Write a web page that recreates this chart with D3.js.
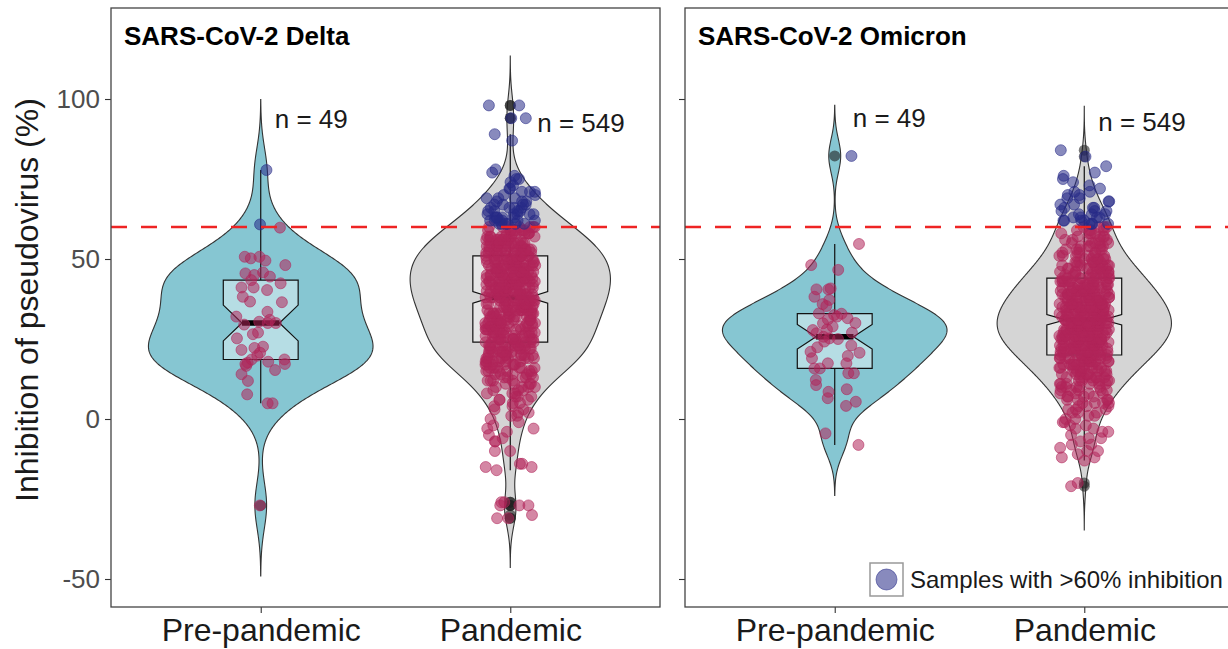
<!DOCTYPE html>
<html>
<head>
<meta charset="utf-8">
<script src="https://d3js.org/d3.v7.min.js"></script>
<style>
  body { margin: 0; background: #fff; }
  svg { display: block; font-family: "Liberation Sans", Arial, sans-serif; }
  .tick line { stroke: #333; stroke-width: 1.1px; }
  .y.axis text { fill: #4d4d4d; font-size: 26px; }
  .x.axis text { fill: #1a1a1a; font-size: 32px; }
  .panel-title { font-weight: bold; font-size: 26px; fill: #000; }
  .nlab { font-size: 26px; fill: #1a1a1a; }
  .violin { stroke: #333; stroke-width: 1.1px; }
  .box { fill: #fff; fill-opacity: 0.4; stroke: #111; stroke-width: 1.2px; }
  .whisker { stroke: #111; stroke-width: 1.2px; }
  .median { stroke: #000; stroke-width: 5.5px; }
  .outlier { fill: #222; fill-opacity: 0.6; }
  .cutoff { stroke: #ee2424; stroke-width: 2.6px; stroke-dasharray: 16 14; }
  .border { fill: none; stroke: #444; stroke-width: 1.3px; }
</style>
</head>
<body>
<script>
// ---- data ----
var panels = ["SARS-CoV-2 Delta", "SARS-CoV-2 Omicron"];
var groups = ["Pre-pandemic", "Pandemic"];
var yTicks = [-50, 0, 50, 100];
var cutoff = 60;
var legendLabel = "Samples with >60% inhibition";
var yLabel = "Inhibition of pseudovirus (%)";

// pre-pandemic sera, one value per sample
var deltaPre = [60.8, 59.8, 50.2, 50.7, 49.5, 48.1, 45.8, 45, 45.5, 44.5,
  43.4, 42.4, 41.1, 41.1, 40.3, 38.2, 36.5, 33.5, 32, 30.4,
  30, 30, 29.5, 26.5, 27, 25.2, 22.6, 22.2, 21.6, 20.7,
  19.8, 18.6, 17.6, 18.6, 17.9, 17.2, 16.6, 15.3, 14, 17.2,
  11.9, 7.7, 4.9, 4.9, -27, 77.8, 50.7, 36.7, 31];

var omicronPre = [54.7, 48.1, 46.6, 40.8, 40.5, 40.5, 38.2, 37.2, 35.9, 35.3,
  32, 32.5, 31.1, 32.9, 31.5, 29.9, 28.9, 27.8, 26.8, 25.2,
  25.7, 24.2, 22.4, 20.7, 19.7, 21, 17.4, 17.4, 15.8, 14.3,
  15.8, 14.3, 12.2, 10.6, 9.3, 8.5, 6.5, 5.4, 4.1, -4.5,
  -8.1, 82.2, 28, 25, 23, 30, 27, 33, 19];

// pandemic sera: number of samples at each whole percent, starting at *From
var deltaPandemicFrom = -31;
var deltaPandemicCounts = [
  2, 1, 0, 0, 3, 2, 0, 0, 0, 0,      // -31 .. -22
  0, 0, 0, 0, 0, 1, 2, 2, 0, 0,      // -21 .. -12
  0, 2, 0, 0, 2, 1, 1, 1, 2, 1,      // -11 .. -2
  1, 1, 2, 2, 2, 2, 2, 3, 3, 3,      // -1 .. 8
  3, 4, 4, 4, 5, 5, 6, 6, 7, 7,      // 9 .. 18
  8, 8, 8, 9, 8, 9, 9, 8, 9, 9,      // 19 .. 28
  9, 9, 9, 9, 10, 10, 10, 10, 10, 9, // 29 .. 38
  11, 11, 10, 11, 11, 11, 10, 11, 10, 11, // 39 .. 48
  10, 11, 10, 10, 10, 9, 9, 9, 8, 7, // 49 .. 58
  7, 7, 6, 6, 5, 5, 4, 4, 4, 3,      // 59 .. 68
  3, 2, 3, 2, 1, 1, 2, 1, 1, 1,      // 69 .. 78
  0, 0, 0, 0, 0, 0, 0, 0, 1, 0,      // 79 .. 88
  1, 0, 0, 0, 0, 2, 0, 0, 0, 2       // 89 .. 98
];

var omicronPandemicFrom = -21;
var omicronPandemicCounts = [
  1, 1, 0, 0, 0, 0, 0, 0, 1, 2,      // -21 .. -12
  1, 2, 1, 2, 1, 2, 1, 2, 2, 2,      // -11 .. -2
  2, 2, 2, 3, 3, 3, 4, 4, 4, 4,      // -1 .. 8
  5, 5, 6, 6, 7, 7, 7, 8, 8, 9,      // 9 .. 18
  10, 10, 10, 11, 12, 12, 12, 12, 13, 13, // 19 .. 28
  14, 13, 13, 13, 12, 12, 12, 12, 12, 11, // 29 .. 38
  11, 10, 10, 10, 9, 9, 8, 8, 8, 7,  // 39 .. 48
  7, 6, 6, 5, 5, 5, 5, 5, 4, 4,      // 49 .. 58
  4, 4, 4, 4, 4, 3, 3, 3, 2, 2,      // 59 .. 68
  2, 2, 2, 1, 1, 1, 1, 1, 1, 0,      // 69 .. 78
  1, 0, 0, 1, 0, 1                   // 79 .. 84
];

var violinFill = ["#86c6d2", "#d5d5d5"];
var pointColor = { low: "#b0245a", high: "#262a86" };

// ---- helpers ----
function expandCounts(from, counts) {
  var out = [];
  counts.forEach(function(c, i) {
    for (var k = 0; k < c; k++) out.push(from + i);
  });
  return out;
}

function gauss(u) { return Math.exp(-0.5 * u * u) / Math.sqrt(2 * Math.PI); }

function bwNrd0(values) {
  var s = values.slice().sort(d3.ascending);
  var iqr = d3.quantileSorted(s, 0.75) - d3.quantileSorted(s, 0.25);
  return 0.9 * Math.min(d3.deviation(s), iqr / 1.34) * Math.pow(s.length, -0.2);
}

// gaussian kde on 512 points, tails cut at 3 bandwidths (ggplot violin, trim = FALSE)
function kde(values) {
  var bw = bwNrd0(values);
  var lo = d3.min(values) - 3 * bw, hi = d3.max(values) + 3 * bw;
  return d3.range(512).map(function(i) {
    var t = lo + (hi - lo) * i / 511;
    return [t, d3.mean(values, function(v) { return gauss((t - v) / bw); }) / bw];
  });
}

function boxStats(values) {
  var s = values.slice().sort(d3.ascending);
  var q1 = d3.quantileSorted(s, 0.25), q2 = d3.quantileSorted(s, 0.5), q3 = d3.quantileSorted(s, 0.75);
  var iqr = q3 - q1;
  var inside = s.filter(function(v) { return v >= q1 - 1.5 * iqr && v <= q3 + 1.5 * iqr; });
  var notch = 1.58 * iqr / Math.sqrt(s.length);
  return {
    q1: q1, q2: q2, q3: q3,
    lo: d3.min(inside), hi: d3.max(inside),
    nlo: q2 - notch, nhi: q2 + notch,
    out: s.filter(function(v) { return v < q1 - 1.5 * iqr || v > q3 + 1.5 * iqr; })
  };
}

var panelData = [
  [deltaPre, expandCounts(deltaPandemicFrom, deltaPandemicCounts)],
  [omicronPre, expandCounts(omicronPandemicFrom, omicronPandemicCounts)]
];

// ---- layout ----
var W = 1228, H = 649;
var panelTop = 8, panelBottom = 607, panelWidth = 549;
var panelLefts = [111, 685];
// where the "n = " labels sit: offset from group centre (px) and height (data units)
var nLabelPos = [[[14, 91], [27, 89.7]], [[18, 91.2], [14, 90]]];

var svg = d3.select("body").append("svg")
  .attr("width", W)
  .attr("height", H);

var y = d3.scaleLinear().domain([-58.75, 128.44]).range([panelBottom, panelTop]);

svg.append("text")
  .attr("transform", "translate(38,300) rotate(-90)")
  .attr("text-anchor", "middle")
  .style("font-size", "32px")
  .style("fill", "#1a1a1a")
  .text(yLabel);

panels.forEach(function(title, p) {
  var x = d3.scalePoint().domain(groups).range([0, panelWidth]).padding(0.6);
  var step = x.step();
  var g = svg.append("g").attr("transform", "translate(" + panelLefts[p] + ",0)");
  var sets = panelData[p];

  g.append("rect")
    .attr("x", 0).attr("y", panelTop)
    .attr("width", panelWidth).attr("height", panelBottom - panelTop)
    .attr("fill", "#fff");

  var clipId = "clip" + p;
  g.append("clipPath").attr("id", clipId).append("rect")
    .attr("x", 0).attr("y", panelTop)
    .attr("width", panelWidth).attr("height", panelBottom - panelTop);
  var plot = g.append("g").attr("clip-path", "url(#" + clipId + ")");

  // violins, widths scaled to the largest density in the panel
  var dens = sets.map(kde);
  var maxD = d3.max(dens, function(d) { return d3.max(d, function(e) { return e[1]; }); });
  var half = d3.scaleLinear().domain([0, maxD]).range([0, 0.45 * step]);

  dens.forEach(function(d, i) {
    var cx = x(groups[i]);
    plot.append("path")
      .attr("class", "violin")
      .attr("fill", violinFill[i])
      .attr("d", d3.area()
        .y(function(e) { return y(e[0]); })
        .x0(function(e) { return cx - half(e[1]); })
        .x1(function(e) { return cx + half(e[1]); })(d));
  });

  // notched boxplots
  sets.forEach(function(values, i) {
    var b = boxStats(values);
    var cx = x(groups[i]);
    var bw = 0.15 * step, indent = bw / 2;

    plot.selectAll(null)
      .data(b.out)
      .enter()
      .append("circle")
      .attr("class", "outlier")
      .attr("r", 5.5)
      .attr("cx", cx)
      .attr("cy", function(v) { return y(v); });

    plot.append("line").attr("class", "whisker")
      .attr("x1", cx).attr("x2", cx).attr("y1", y(b.q3)).attr("y2", y(b.hi));
    plot.append("line").attr("class", "whisker")
      .attr("x1", cx).attr("x2", cx).attr("y1", y(b.q1)).attr("y2", y(b.lo));

    var poly = [
      [cx - bw, y(b.q3)], [cx - bw, y(b.nhi)], [cx - bw + indent, y(b.q2)],
      [cx - bw, y(b.nlo)], [cx - bw, y(b.q1)], [cx + bw, y(b.q1)],
      [cx + bw, y(b.nlo)], [cx + bw - indent, y(b.q2)], [cx + bw, y(b.nhi)],
      [cx + bw, y(b.q3)]
    ];
    plot.append("path")
      .attr("class", "box")
      .attr("d", d3.line()(poly) + "Z");
    plot.append("line").attr("class", "median")
      .attr("x1", cx - bw + indent).attr("x2", cx + bw - indent)
      .attr("y1", y(b.q2)).attr("y2", y(b.q2));
  });

  // jittered samples
  sets.forEach(function(values, i) {
    var cx = x(groups[i]);
    var jitter = d3.randomUniform.source(d3.randomLcg(0.13 + 0.31 * (2 * p + i)))(-0.1, 0.1);
    plot.selectAll(null)
      .data(values)
      .enter()
      .append("circle")
      .attr("r", 5.5)
      .attr("cx", function() { return cx + jitter() * step; })
      .attr("cy", function(v) { return y(v); })
      .attr("fill", function(v) { return v > cutoff ? pointColor.high : pointColor.low; })
      .attr("stroke", function(v) { return v > cutoff ? pointColor.high : pointColor.low; })
      .attr("fill-opacity", 0.55)
      .attr("stroke-opacity", 0.55);
  });

  plot.append("line")
    .attr("class", "cutoff")
    .attr("x1", 0).attr("x2", panelWidth)
    .attr("y1", y(cutoff)).attr("y2", y(cutoff));

  // sample sizes
  sets.forEach(function(values, i) {
    g.append("text")
      .attr("class", "nlab")
      .attr("x", x(groups[i]) + nLabelPos[p][i][0])
      .attr("y", y(nLabelPos[p][i][1]))
      .text("n = " + values.length);
  });

  g.append("text")
    .attr("class", "panel-title")
    .attr("x", 13)
    .attr("y", 45)
    .text(title);

  // axes
  var ya = g.append("g").attr("class", "y axis")
    .call(d3.axisLeft(y).tickValues(yTicks).tickSize(6).tickPadding(5)
      .tickFormat(function(d) { return String(d); }));
  ya.select(".domain").remove();
  ya.selectAll("text").attr("font-family", null).attr("font-size", null);
  if (p > 0) ya.selectAll("text").remove();

  var xa = g.append("g").attr("class", "x axis")
    .attr("transform", "translate(0," + panelBottom + ")")
    .call(d3.axisBottom(x).tickSize(6).tickPadding(5));
  xa.select(".domain").remove();
  xa.selectAll("text").attr("font-family", null).attr("font-size", null);

  g.append("rect")
    .attr("class", "border")
    .attr("x", 0).attr("y", panelTop)
    .attr("width", panelWidth).attr("height", panelBottom - panelTop);

  if (p === 1) {
    var lg = g.append("g").attr("transform", "translate(185,563)");
    lg.append("rect")
      .attr("width", 33).attr("height", 33)
      .attr("fill", "#fff").attr("stroke", "#999").attr("stroke-width", 1.5);
    lg.append("circle")
      .attr("cx", 16.5).attr("cy", 16.5).attr("r", 10.5)
      .attr("fill", pointColor.high).attr("fill-opacity", 0.55)
      .attr("stroke", pointColor.high).attr("stroke-opacity", 0.55);
    lg.append("text")
      .attr("x", 40).attr("y", 25)
      .style("font-size", "24px")
      .style("fill", "#1a1a1a")
      .text(legendLabel);
  }
});
</script>
</body>
</html>
